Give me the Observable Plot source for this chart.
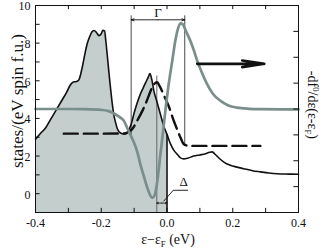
<!DOCTYPE html>
<html>
<head>
<meta charset="utf-8">
<script src="https://cdn.jsdelivr.net/npm/d3@7"></script>
<script src="https://cdn.jsdelivr.net/npm/@observablehq/plot@0.6"></script>
<style>
  html, body { margin: 0; padding: 0; background: #fff; }
  svg { display: block; }
  #chart svg, #chart svg text, #chart svg tspan { font-family: "Liberation Serif", "Times New Roman", serif !important; }
</style>
</head>
<body>
<div id="chart"></div>
<script>
// ---- data (energy ε−εF in eV, values in left-axis units) ----
const dosE = [-0.400,-0.385,-0.369,-0.354,-0.339,-0.320,-0.305,-0.295,-0.285,-0.275,-0.268,-0.258,-0.250,-0.243,-0.235,-0.228,-0.222,-0.215,-0.207,-0.200,-0.195,-0.190,-0.186,-0.182,-0.177,-0.172,-0.167,-0.162,-0.156,-0.151,-0.145,-0.136,-0.128,-0.121,-0.113,-0.106,-0.101,-0.091,-0.081,-0.073,-0.065,-0.058,-0.052,-0.046,-0.040,-0.030,-0.020,-0.010,0.000,0.011,0.021,0.031,0.041,0.051,0.062,0.081,0.100,0.117,0.130,0.137,0.145,0.157,0.170,0.183,0.200,0.233,0.260,0.284,0.310,0.335,0.370,0.400];
const dosV = [2.90,3.20,3.50,3.95,4.39,4.95,5.40,5.75,5.93,5.96,6.05,6.70,7.40,7.95,8.35,8.60,8.67,8.58,8.40,8.50,8.68,8.65,8.10,7.41,6.50,5.64,4.85,4.22,3.75,3.45,3.28,3.19,3.17,3.24,3.50,3.87,4.22,4.80,5.29,5.60,5.90,6.15,6.38,6.05,5.46,4.85,4.22,3.60,3.15,2.63,2.30,2.10,1.90,1.85,1.88,2.00,2.06,2.12,2.20,2.22,2.12,1.91,1.72,1.58,1.47,1.33,1.22,1.16,1.10,1.06,1.04,1.03];

const dashE = [-0.314,-0.200,-0.130,-0.115,-0.106,-0.090,-0.075,-0.060,-0.050,-0.040,-0.030,-0.022,-0.010,0.005,0.020,0.030,0.041,0.050,0.060,0.071,0.284];
const dashV = [3.19,3.19,3.20,3.30,3.43,3.90,4.40,5.00,5.46,5.80,5.92,5.70,5.25,4.66,3.90,3.45,2.98,2.65,2.56,2.54,2.54];

const derivE = [-0.400,-0.300,-0.250,-0.200,-0.180,-0.160,-0.145,-0.131,-0.120,-0.110,-0.101,-0.090,-0.081,-0.070,-0.060,-0.052,-0.045,-0.038,-0.030,-0.020,-0.012,-0.005,0.005,0.016,0.025,0.033,0.041,0.048,0.056,0.064,0.071,0.082,0.092,0.107,0.122,0.140,0.163,0.185,0.213,0.250,0.284,0.400];
const derivV = [4.50,4.50,4.49,4.45,4.40,4.25,4.08,3.87,3.45,3.08,2.75,2.20,1.56,0.90,0.32,-0.05,-0.22,-0.10,0.60,2.10,3.30,4.40,5.80,7.06,8.10,8.75,9.05,9.00,8.70,8.40,8.12,7.60,7.06,6.40,5.82,5.30,4.93,4.70,4.57,4.51,4.49,4.48];

const xTicks = [-0.4, -0.2, 0.0, 0.2, 0.4];
const xMinor = [-0.4,-0.3,-0.2,-0.1,0,0.1,0.2,0.3,0.4];
const yTicks = [0, 2, 4, 6, 8, 10];
const yMinor = [-1,0,1,2,3,4,5,6,7,8,9,10];
const rightTicks = [1,2,3,4,5,6,7];   // right-axis (−df0/dε) units, 0..8 over the frame
const rightMax = 8;

const yLabel = "states/(eV spin f.u.)";
const xLabel = "ε−ε_F (eV)";
const rLabel = "-df^0/dε(ε-ε_F)";

// annotation levels
const fillCut = 0.0;        // filled DOS up to εF
const deltaE = -0.031;      // Δ line
const gammaL = -0.109, gammaR = 0.054;

// ---- tables ----
const dos = dosE.map((e, i) => ({e, v: dosV[i]}));
const dashed = dashE.map((e, i) => ({e, v: dashV[i]}));
const deriv = derivE.map((e, i) => ({e, v: derivV[i]}));
const yMin = -1, yMax = 10;
const rToLeft = r => yMin + r * (yMax - yMin) / rightMax;
const dosAt0 = dosV[dosE.indexOf(0)];

const black = "#111";
const grayLine = "#7a8e8b";
const fillCol = "#c4cecc";
const serif = "'Liberation Serif', 'Times New Roman', serif";

const plot = Plot.plot({
  width: 333,
  height: 250,
  marginLeft: 35,
  marginRight: 35,
  marginTop: 5,
  marginBottom: 38,
  style: {fontFamily: serif, fontSize: "12px", background: "#fff", color: black},
  x: {domain: [-0.4, 0.4]},
  y: {domain: [yMin, yMax]},
  marks: [
    // filled occupied DOS
    Plot.areaY(dos.filter(d => d.e <= fillCut), {x: "e", y1: yMin, y2: "v", fill: fillCol, curve: "monotone-x"}),
    // thin Δ line
    Plot.ruleX([deltaE], {y1: yMin, y2: 6.25, stroke: "#666", strokeWidth: 1}),
    // εF edge of fill
    Plot.ruleX([fillCut], {y1: yMin, y2: dosAt0, stroke: black, strokeWidth: 1.6}),
    // Γ vertical markers
    Plot.ruleX([gammaL], {y1: 3.05, y2: 9.45, stroke: "#333", strokeWidth: 0.9}),
    Plot.ruleX([gammaR], {y1: 2.55, y2: 9.45, stroke: "#333", strokeWidth: 0.9}),
    // DOS
    Plot.line(dos, {x: "e", y: "v", stroke: black, strokeWidth: 1.6, curve: "monotone-x"}),
    // dashed
    Plot.line(dashed, {x: "e", y: "v", stroke: black, strokeWidth: 2.4, strokeDasharray: "14,6", curve: "monotone-x"}),
    // derivative of Fermi function
    Plot.line(deriv, {x: "e", y: "v", stroke: grayLine, strokeWidth: 2.7, curve: "monotone-x"}),
    // Γ double arrow
    Plot.arrow([{x1: (gammaL + gammaR) / 2, x2: gammaL}, {x1: (gammaL + gammaR) / 2, x2: gammaR}],
      {x1: "x1", x2: "x2", y1: 9.24, y2: 9.24, stroke: black, strokeWidth: 0.9, headLength: 5, headAngle: 40}),
    Plot.text(["Γ"], {x: (gammaL + gammaR) / 2, y: 9.62, fontSize: 13, fill: black}),
    // Δ double arrow & leader
    Plot.arrow([{x1: deltaE / 2, x2: deltaE}, {x1: deltaE / 2, x2: fillCut}],
      {x1: "x1", x2: "x2", y1: -0.5, y2: -0.5, stroke: black, strokeWidth: 0.8, headLength: 3, headAngle: 50}),
    Plot.line([{e: -0.0097, v: -0.39}, {e: 0.019, v: 0.18}, {e: 0.063, v: 0.18}], {x: "e", y: "v", stroke: black, strokeWidth: 0.9}),
    Plot.text(["Δ"], {x: 0.051, y: 0.62, fontSize: 13, fill: black}),
    // big arrow pointing to right axis
    Plot.arrow([{x1: 0.092, x2: 0.296}], {x1: "x1", x2: "x2", y1: 6.9, y2: 6.9, stroke: black, strokeWidth: 2.6, headLength: 17, headAngle: 17}),
    // inward ticks
    Plot.ruleX(xMinor, {y1: yMin, y2: yMin + 0.22, stroke: black, strokeWidth: 1}),
    Plot.ruleX(xMinor, {y1: yMax, y2: yMax - 0.22, stroke: black, strokeWidth: 1}),
    Plot.ruleY(yMinor, {x1: -0.4, x2: -0.386, stroke: black, strokeWidth: 1}),
    Plot.ruleY(rightTicks.map(rToLeft), {x1: 0.4, x2: 0.386, stroke: black, strokeWidth: 1}),
    Plot.frame({stroke: black, strokeWidth: 1}),
    // axes (labels only)
    Plot.axisX(xTicks, {tickSize: 0, tickPadding: 6, tickFormat: d => d.toFixed(1), fontSize: 12, fontFamily: serif, label: null}),
    Plot.axisY(yTicks, {tickSize: 0, tickPadding: 5, dy: 1, tickFormat: d => String(d), fontSize: 12, fontFamily: serif, label: null}),
    // axis titles
    Plot.text([yLabel], {x: -0.4, y: 4.93, dx: -17.5, rotate: -90, fontSize: 17, fontFamily: serif, fill: black}),
    Plot.text([xLabel], {x: 0.003, frameAnchor: "bottom", dy: 31, fontSize: 14, fontFamily: serif, fill: black}),
    Plot.text([rLabel], {x: 0.4, y: 4.72, dx: 14, rotate: 90, fontSize: 14, fontFamily: serif, fill: black})
  ]
});

// rich text: subscripts/superscripts as tspans
const NS = "http://www.w3.org/2000/svg";
plot.querySelectorAll("text").forEach(t => {
  t.setAttribute("font-family", serif);
  const s = t.textContent;
  if (s === yLabel) {
    t.setAttribute("textLength", "134");
    t.setAttribute("lengthAdjust", "spacingAndGlyphs");
    return;
  }
  if (!/_F|\^0/.test(s)) return;
  const parts = s.split(/(_F|\^0)/).filter(p => p);
  t.textContent = "";
  let pending = 0;
  parts.forEach(p => {
    const ts = document.createElementNS(NS, "tspan");
    if (p === "_F") {
      ts.textContent = "F";
      ts.setAttribute("font-size", "0.62em");
      ts.setAttribute("dy", String(3 + pending));
      pending = -3;
    } else if (p === "^0") {
      ts.textContent = "0";
      ts.setAttribute("font-size", "0.62em");
      ts.setAttribute("dy", String(-5 + pending));
      pending = 5;
    } else {
      ts.textContent = p;
      if (pending) ts.setAttribute("dy", String(pending));
      pending = 0;
    }
    t.appendChild(ts);
  });
});

document.getElementById("chart").appendChild(plot);
</script>
</body>
</html>
